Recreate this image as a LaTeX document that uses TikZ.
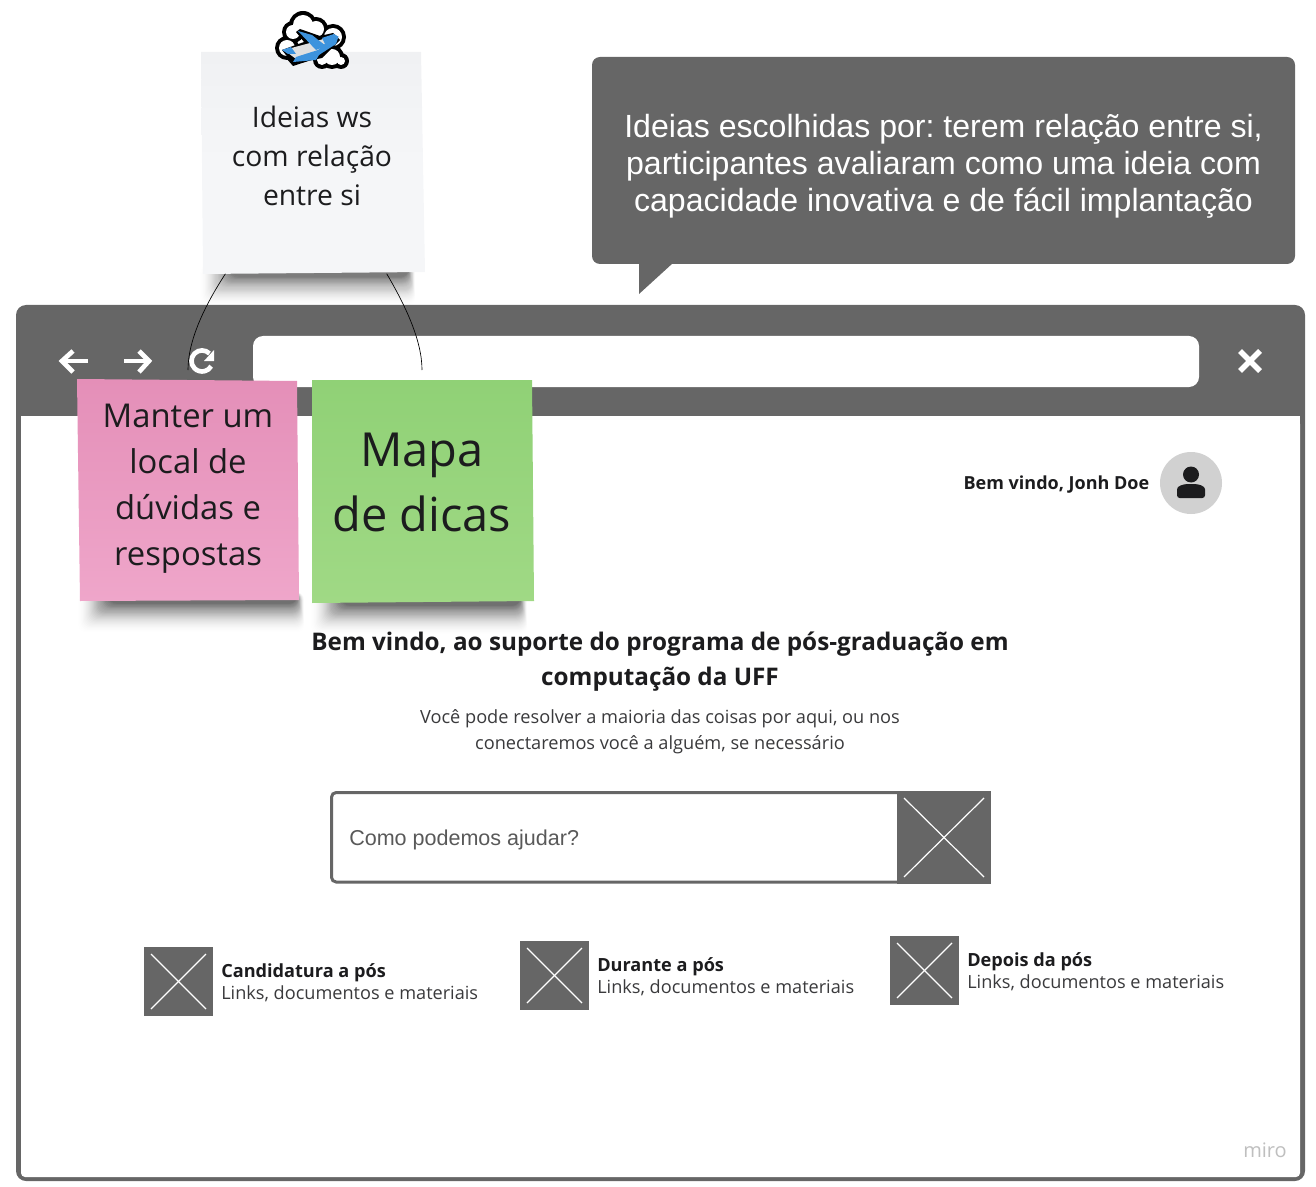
\documentclass[tikz,border=0pt]{standalone}
\usepackage{fontspec}
\setmainfont{Open Sans}
\newfontfamily\arialfont{Liberation Sans}
\usetikzlibrary{calc}
\frenchspacing

\definecolor{wiregray}{HTML}{666666}
\definecolor{inktext}{HTML}{1C1C1E}
\definecolor{bodytext}{HTML}{3A3A3C}
\definecolor{planeblue}{HTML}{3D93DD}

\tikzset{
    stickytext/.style={align=center,text=inktext,inner sep=0pt},
    placeholder/.style={fill=wiregray},
    crossline/.style={white,line width=0.9pt},
    toolicon/.style={white,line width=3.5pt},
    itemtext/.style={anchor=west,align=left,text=bodytext,inner sep=0pt,font=\fontsize{13.6}{16.5}\selectfont},
    tie/.style={black,line width=0.5pt}
}

\newcommand{\stickyshadow}[3]{
    \foreach \i [evaluate=\i as \a using {0.05*(1-\i/30)}] in {1,...,29}
        \fill[black,opacity=\a,rounded corners=6pt] ({#1-34*\i/30},#3-8) rectangle ({#2+8*\i/30},{#3+3+32*pow(\i/30,1.2)});
}
\newcommand{\crossbox}[4]{
    \fill[placeholder] (#1,#2) rectangle (#3,#4);
    \draw[crossline] (#1+7,#2+7) -- (#3-7,#4-7);
    \draw[crossline] (#3-7,#2+7) -- (#1+7,#4-7);
}

\begin{document}
\begin{tikzpicture}[x=0.75pt,y=-0.75pt]

    \useasboundingbox (0,0) rectangle (1316,1187);

    % note at the top
    \stickyshadow{232}{408}{273}
    \shade[top color={rgb,255:red,240;green,241;blue,243},bottom color={rgb,255:red,245;green,246;blue,248},middle color={rgb,255:red,245;green,246;blue,248}] (201,52) -- (421,52) -- (425,272) -- (203,274) -- cycle;
    \node[minimum width=165pt,minimum height=165.75pt,inner sep=0pt] (noteIdeias) at (312,163) {};
    \node[stickytext,font=\fontsize{21.2}{29.25}\selectfont] (textIdeias) at (312,156) {Ideias ws\\com relação\\entre si};

    % plane and clouds
    \foreach \cx/\cy/\cr in {303/25/10,293/32/7,316/29/8,333/37/9,287/48/8,332/57/8,341/61/4,322/60/5}
        \fill[black] (\cx,\cy) circle ({(\cr+4)*0.75pt});
    \fill[black] (279,50) -- (293,66) -- (330,54) -- (310,45) -- cycle;
    \foreach \cx/\cy/\cr in {303/25/10,293/32/7,316/29/8,333/37/9,287/48/8,332/57/8,341/61/4,322/60/5}
        \fill[white] (\cx,\cy) circle ({\cr*0.75pt});
    \fill[black] (282,50) -- (293,64) -- (322,58) -- (340,40) -- (333,33) -- (320,36) -- (300,29) -- (296,32) -- (304,42) -- cycle;
    \fill[black!12] (284,50) -- (310,43) -- (330,37) -- (325,48) -- (296,59) -- cycle;
    \fill[planeblue] (298,31) -- (312,35) -- (326,46) -- (316,50) -- cycle;
    \fill[planeblue] (293,62) -- (296,57) -- (318,50) -- (330,39) -- (338,38) -- (336,44) -- (319,55) -- (316,60) -- cycle;
    \fill[planeblue] (322,38) -- (334,34) -- (339,37) -- (325,44) -- cycle;
    \fill[planeblue] (282,50) -- (291,47) -- (296,54) -- (288,54) -- cycle;

    % callout
    \fill[wiregray,rounded corners=6pt] (592,57) rectangle (1295,264);
    \fill[wiregray] (639,262) -- (639,294) -- (673,263) -- cycle;
    \node[align=center,text=white,inner sep=0pt,font=\arialfont\fontsize{24.06}{27.8}\selectfont] (textCallout) at (943.5,166)
        {Ideias escolhidas por: terem relação entre si,\\participantes avaliaram como uma ideia com\\capacidade inovativa e de fácil implantação};

    % browser window
    \fill[wiregray,rounded corners=7.5pt] (16,305) rectangle (1305,1181);
    \fill[white,rounded corners=3pt] (21,420) rectangle (1300,1177);
    \fill[white] (21,416) rectangle (1300,430);
    \fill[white,rounded corners=7.5pt] (253,336) rectangle (1199,387);
    \node[inner sep=0pt,text=black!25,font=\fontsize{15}{16}\selectfont] (textMiro) at (1265,1150) {miro};

    % toolbar icons
    \draw[toolicon] (88,361) -- (62,361);
    \draw[toolicon] (73,351) -- (62,361) -- (73,372);
    \draw[toolicon] (124,361) -- (149,361);
    \draw[toolicon] (139,351) -- (149,361) -- (139,372);
    \draw[toolicon] (209.5,353.5) arc (45:330:7.9pt);
    \fill[white] (214,350) -- (214,361) -- (204,361) -- cycle;
    \draw[white,line width=4pt] (1240,351) -- (1260,371);
    \draw[white,line width=4pt] (1260,351) -- (1240,371);

    % user
    \node[circle,fill=black!18,minimum size=46.5pt,inner sep=0pt] (avatar) at (1191,483) {};
    \fill[inktext] (1191,474.5) circle (6pt);
    \fill[inktext,rounded corners=2pt] (1177,498) -- (1177,492) .. controls (1177,486) and (1183,484) .. (1191,484) .. controls (1199,484) and (1205,486) .. (1205,492) -- (1205,498) -- cycle;
    \node[inner sep=0pt,anchor=east,text=inktext,font=\bfseries\fontsize{13.5}{16}\selectfont] (textWelcome) at (1149.5,485) {Bem vindo, Jonh Doe};

    % page text
    \node[inner sep=0pt,align=center,text=inktext,font=\bfseries\fontsize{18.2}{26.25}\selectfont] (textTitle) at (660,662)
        {Bem vindo, ao suporte do programa de pós-graduação em\\computação da UFF};
    \node[inner sep=0pt,align=center,text=bodytext,font=\fontsize{13.64}{19.5}\selectfont] (textSub) at (660,731.5)
        {Você pode resolver a maioria das coisas por aqui, ou nos\\conectaremos você a alguém, se necessário};

    % search
    \draw[wiregray,line width=2.25pt,rounded corners=3.5pt] (331.5,792.5) rectangle (905,882);
    \crossbox{897}{791}{991}{884}
    \node[inner sep=0pt,anchor=west,text=black!65,font=\arialfont\fontsize{16.15}{20}\selectfont] (textSearch) at (349,839.5) {Como podemos ajudar?};

    % links
    \crossbox{144}{947}{213}{1016}
    \node[itemtext] (textCand) at (221,983) {\textbf{\textcolor{inktext}{Candidatura a pós}}\\Links, documentos e materiais};
    \crossbox{520}{941}{589}{1010}
    \node[itemtext] (textDurante) at (597,977) {\textbf{\textcolor{inktext}{Durante a pós}}\\Links, documentos e materiais};
    \crossbox{890}{936}{959}{1005}
    \node[itemtext] (textDepois) at (967,971.5) {\textbf{\textcolor{inktext}{Depois da pós}}\\Links, documentos e materiais};

    % notes over the window
    \stickyshadow{110}{297}{600}
    \stickyshadow{343}{520}{602}
    \shade[top color={rgb,255:red,228;green,143;blue,184},bottom color={rgb,255:red,239;green,166;blue,202}] (77,379) -- (297,381) -- (299,600) -- (80,601) -- cycle;
    \shade[top color={rgb,255:red,144;green,209;blue,118},bottom color={rgb,255:red,160;green,217;blue,133}] (312,380) -- (532,380) -- (534,601) -- (312,603) -- cycle;
    \node[stickytext,font=\fontsize{24.6}{34.5}\selectfont] (noteManter) at (188,488.5) {Manter um\\local de\\dúvidas e\\respostas};
    \node[stickytext,font=\fontsize{35.2}{48.75}\selectfont] (noteMapa) at (422,482.5) {Mapa\\de dicas};

    % ties
    \coordinate (endManter) at (188,370);
    \coordinate (endMapa) at (422,370);
    \draw[tie] (noteIdeias.232) .. controls (205,305) and (188,340) .. (endManter);
    \draw[tie] (noteIdeias.304) .. controls (405,305) and (422,340) .. (endMapa);

\end{tikzpicture}
\end{document}
